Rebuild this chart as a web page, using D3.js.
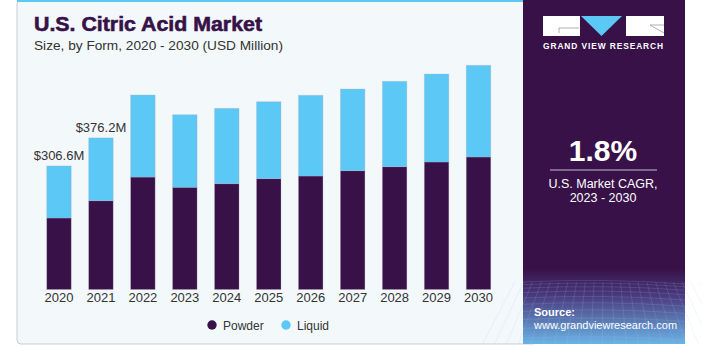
<!DOCTYPE html>
<html>
<head>
<meta charset="utf-8">
<script src="https://cdn.jsdelivr.net/npm/d3@7/dist/d3.min.js"></script>
<style>
  html, body { margin: 0; padding: 0; background: #ffffff; }
  svg { display: block; font-family: "Liberation Sans", Arial, sans-serif; }
</style>
</head>
<body>
<svg id="chart" width="702" height="346"></svg>
<script>
const years = ["2020","2021","2022","2023","2024","2025","2026","2027","2028","2029","2030"];
const powder = [177.4, 220.3, 279.0, 253.6, 262.5, 275.0, 281.6, 294.8, 304.7, 316.4, 328.8];
const liquid = [129.2, 155.9, 203.6, 180.1, 187.1, 191.0, 200.3, 202.7, 211.9, 218.3, 227.5];
const seriesNames = ["Powder", "Liquid"];
const valueLabels = [{year: "2020", text: "$306.6M"}, {year: "2021", text: "$376.2M"}];
const cagr = "1.8%";

const svg = d3.select("#chart");
const colors = {Powder: "#371147", Liquid: "#5bc8f5"};

// Chart panel background
svg.append("rect").attr("x", 17).attr("y", 0).attr("width", 520).attr("height", 344)
  .attr("rx", 4).attr("fill", "#f3f8fb").attr("stroke", "#c9cdd1").attr("stroke-width", 1);
svg.append("rect").attr("x", 17).attr("y", 0).attr("width", 510).attr("height", 2).attr("fill", "#5bc8f5");

// Right panel
const defs = svg.append("defs");
const grad = defs.append("linearGradient").attr("id", "pg").attr("x1", 0).attr("y1", 0).attr("x2", 0).attr("y2", 1);
grad.append("stop").attr("offset", "0").attr("stop-color", "#371147");
grad.append("stop").attr("offset", "0.78").attr("stop-color", "#371147");
grad.append("stop").attr("offset", "0.86").attr("stop-color", "#4a3a7e");
grad.append("stop").attr("offset", "1").attr("stop-color", "#6bb4e6");
svg.append("rect").attr("x", 523).attr("y", 0).attr("width", 162).attr("height", 344).attr("fill", "url(#pg)");

// grid texture at bottom of right panel
const gridG = svg.append("g").attr("stroke", "#9fc6ee").attr("stroke-opacity", 0.28).attr("stroke-width", 0.6).attr("fill", "none");
for (let i = 0; i < 12; i++) {
  const yy = 282 + i * i * 0.45 + i * 2.2;
  gridG.append("path").attr("d", `M523,${yy} Q604,${yy - 4} 685,${yy + 2}`);
}
for (let i = 0; i < 22; i++) {
  const xx = 523 + i * 8;
  gridG.append("line").attr("x1", xx + (xx - 604) * 0.1).attr("y1", 282).attr("x2", xx + (xx - 604) * 0.5).attr("y2", 344);
}

// Logo
const logo = svg.append("g");
logo.append("rect").attr("x", 543).attr("y", 16).attr("width", 37).attr("height", 20).attr("fill", "#ffffff");
logo.append("path").attr("d", "M559,28 L579,28 M559,28 L559,33").attr("stroke", "#9a9aa8").attr("stroke-width", 0.8).attr("fill", "none");
logo.append("path").attr("d", "M581,16 L622,16 L601.5,36 Z").attr("fill", "#5bc8f5");
logo.append("rect").attr("x", 626).attr("y", 16).attr("width", 38).attr("height", 20).attr("fill", "#ffffff");
logo.append("path").attr("d", "M650,25 L664,25 M650,25 L664,33").attr("stroke", "#9a9aa8").attr("stroke-width", 0.8).attr("fill", "none");
svg.append("text").attr("x", 603.5).attr("y", 49).attr("text-anchor", "middle")
  .attr("fill", "#ffffff").attr("font-size", 8.4).attr("font-weight", "bold").attr("letter-spacing", 0.9)
  .text("GRAND VIEW RESEARCH");

// CAGR
svg.append("text").attr("x", 603).attr("y", 161).attr("text-anchor", "middle")
  .attr("fill", "#ffffff").attr("font-size", 30).attr("font-weight", "bold").text(cagr);
svg.append("line").attr("x1", 550).attr("x2", 657).attr("y1", 170).attr("y2", 170)
  .attr("stroke", "#c8bcd2").attr("stroke-width", 1);
svg.append("text").attr("x", 603).attr("y", 188).attr("text-anchor", "middle")
  .attr("fill", "#ffffff").attr("font-size", 12.5).text("U.S. Market CAGR,");
svg.append("text").attr("x", 603).attr("y", 202).attr("text-anchor", "middle")
  .attr("fill", "#ffffff").attr("font-size", 12.5).text("2023 - 2030");

// Source
svg.append("text").attr("x", 534).attr("y", 316).attr("fill", "#ffffff")
  .attr("font-size", 11).attr("font-weight", "bold").text("Source:");
svg.append("text").attr("x", 534).attr("y", 329).attr("fill", "#ffffff")
  .attr("font-size", 11).text("www.grandviewresearch.com");

// Title
svg.append("text").attr("x", 34).attr("y", 31).attr("fill", "#371147")
  .attr("font-size", 21).attr("font-weight", "900").attr("stroke", "#371147").attr("stroke-width", 0.6)
  .attr("textLength", 228).attr("lengthAdjust", "spacingAndGlyphs")
  .text("U.S. Citric Acid Market");
svg.append("text").attr("x", 34).attr("y", 50).attr("fill", "#333333")
  .attr("font-size", 13.5).attr("textLength", 249).attr("lengthAdjust", "spacingAndGlyphs")
  .text("Size, by Form, 2020 - 2030 (USD Million)");

// Scales
const x = d3.scaleBand().domain(years).range([38, 499.5]).paddingInner(0.416).paddingOuter(0.208);
const y = d3.scaleLinear().domain([0, 600]).range([289.5, 289.5 - 600 * 0.403]);

const data = years.map((yr, i) => ({year: yr, Powder: powder[i], Liquid: liquid[i]}));
const stacked = d3.stack().keys(seriesNames)(data);

svg.append("g").selectAll("g").data(stacked).join("g")
  .attr("fill", d => colors[d.key])
  .selectAll("rect").data(d => d).join("rect")
  .attr("x", d => x(d.data.year))
  .attr("y", d => y(d[1]))
  .attr("width", x.bandwidth())
  .attr("height", d => y(d[0]) - y(d[1]))
  .attr("stroke", "#b9a9c4").attr("stroke-opacity", 0.35).attr("stroke-width", 0.8);

// Axis
const xAxis = d3.axisBottom(x).tickSize(0).tickPadding(0);
const ax = svg.append("g").attr("transform", "translate(0,292)").call(xAxis);
ax.select(".domain").remove();
ax.selectAll("text").attr("font-size", 13).attr("fill", "#333333")
  .attr("font-family", "'Liberation Sans', Arial, sans-serif").attr("dy", "0.76em").attr("y", 0);

// Value labels
const totals = years.map((yr, i) => powder[i] + liquid[i]);
svg.append("g").selectAll("text").data(valueLabels).join("text")
  .attr("x", d => x(d.year) + x.bandwidth() / 2)
  .attr("y", d => y(totals[years.indexOf(d.year)]) - 6)
  .attr("text-anchor", "middle").attr("font-size", 13).attr("fill", "#333333")
  .text(d => d.text);

// Legend
const legend = svg.append("g");
const legPos = [{name: "Powder", cx: 212}, {name: "Liquid", cx: 286}];
legPos.forEach(p => {
  legend.append("circle").attr("cx", p.cx).attr("cy", 325).attr("r", 4.7).attr("fill", colors[p.name]);
  legend.append("text").attr("x", p.cx + 11).attr("y", 329.5).attr("font-size", 12).attr("fill", "#333333").text(p.name);
});
</script>
</body>
</html>
